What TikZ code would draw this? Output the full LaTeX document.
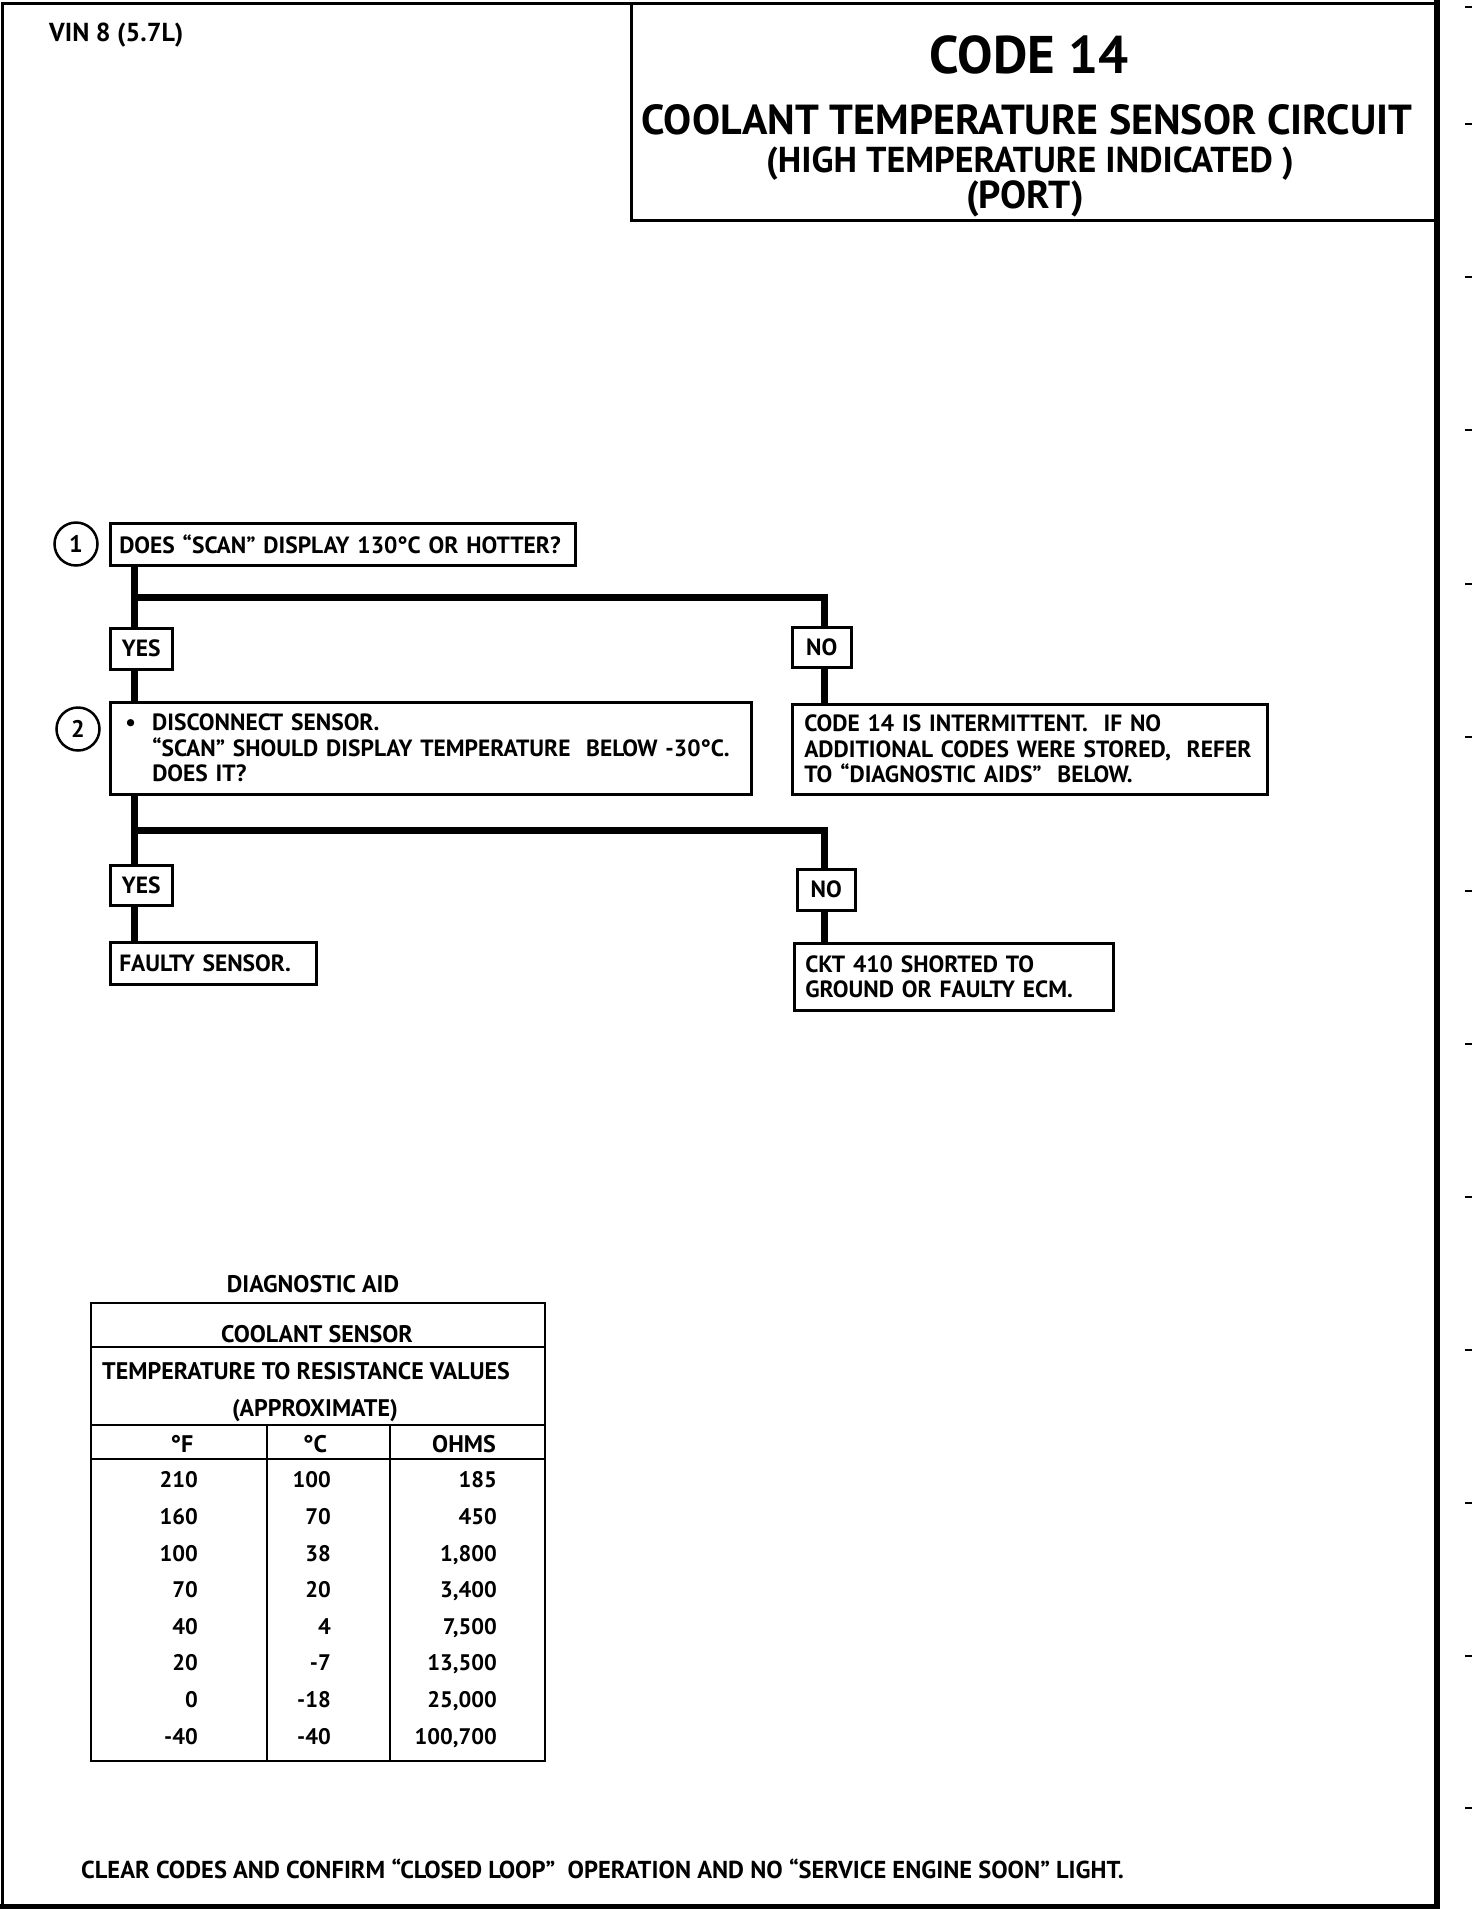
\documentclass[tikz,border=0pt]{standalone}
\usepackage{fontspec}
\setmainfont{PT Sans}
\begin{document}
\begin{tikzpicture}[x=1pt,y=-1pt,
  frame/.style={line width=3pt, line cap=rect},
  box/.style={draw, line width=2.5pt, fill=white, inner ysep=0pt, anchor=north west,
    align=left, font=\fontsize{23.5}{25.5}\selectfont\bfseries},
  lab/.style={draw, line width=2.5pt, fill=white, inner sep=0pt, anchor=north west,
    font=\fontsize{23.5}{25}\selectfont\bfseries},
  conn/.style={line width=7pt, line join=miter},
  num/.style={circle, draw, line width=2.5pt, minimum size=43pt, inner sep=0pt,
    font=\fontsize{24}{26}\selectfont\bfseries},
  tline/.style={line width=2.5pt},
  ttxt/.style={inner sep=0pt, anchor=base, font=\fontsize{24}{26}\selectfont\bfseries},
  tnum/.style={inner sep=0pt, anchor=base east, font=\fontsize{22.5}{25}\selectfont\bfseries},
  plain/.style={inner sep=0pt, anchor=base},
  tick/.style={line width=1.5pt}
]
\useasboundingbox (0,0) rectangle (1472,1914);
% outer frame
\draw[frame] (2.5,3) -- (1437,3);
\draw[frame] (2.5,3) -- (2.5,1906);
\draw[frame, line width=5pt] (2.5,1906) -- (1437,1906);
\draw[frame, line width=6pt] (1437,3) -- (1437,1906);
% title box
\draw[frame] (631,3) -- (631,220) -- (1437,220);
% right margin ticks
\foreach \y in {7,124,277,430,584,737,891,1044,1197,1350,1503,1656,1808}
  \draw[tick] (1465,\y) -- (1472,\y);

% header texts
\node[plain, anchor=base west, font=\fontsize{26}{28}\selectfont\bfseries] (vin) at (49,41) {VIN 8 (5.7L)};
\node[plain, font=\fontsize{53}{58}\selectfont\bfseries] (code) at (1029,73.5) {CODE 14};
\node[plain, font=\fontsize{42}{46}\selectfont\bfseries] (title) at (1027,134.7) {COOLANT TEMPERATURE SENSOR CIRCUIT};
\node[plain, font=\fontsize{36}{40}\selectfont\bfseries] (sub1) at (1030,172.6) {(HIGH TEMPERATURE INDICATED )};
\node[plain, font=\fontsize{39}{43}\selectfont\bfseries] (sub2) at (1025,208.6) {(PORT)};

% step 1
\node[num] (n1) at (76,544) {1};
\node[box, inner xsep=9pt, text width=447pt, minimum height=42pt] (q1) at (109,522)
  {DOES “SCAN” DISPLAY 130°C OR HOTTER?};
\node[lab, minimum width=62pt, minimum height=41pt] (yes1) at (109,627) {YES};
\node[lab, minimum width=59pt, minimum height=40pt] (no1) at (791,626) {NO};

% step 2
\node[num] (n2) at (78,729) {2};
\node[box, inner xsep=15pt, text width=611pt, minimum height=92pt] (q2) at (109,701)
  {\makebox[27pt][l]{•}DISCONNECT SENSOR.\\
   \hspace*{27pt}“SCAN” SHOULD DISPLAY TEMPERATURE \ BELOW -30°C.\\
   \hspace*{27pt}DOES IT?};
\node[box, inner xsep=12pt, text width=451pt, minimum height=90pt] (r1) at (791,703)
  {CODE 14 IS INTERMITTENT. \ IF NO\\
   ADDITIONAL CODES WERE STORED, \ REFER\\
   TO “DIAGNOSTIC AIDS” \ BELOW.};

\node[lab, minimum width=62pt, minimum height=40pt] (yes2) at (109,864) {YES};
\node[lab, minimum width=58pt, minimum height=41pt] (no2) at (796,868) {NO};
\node[box, inner xsep=9pt, text width=188pt, minimum height=42pt] (f1) at (109,941)
  {FAULTY SENSOR.};
\node[box, inner xsep=11pt, text width=297pt, minimum height=67pt] (ckt) at (793,942)
  {CKT 410 SHORTED TO\\ GROUND OR FAULTY ECM.};

% connectors
\coordinate (j1) at (134,597);
\coordinate (k1) at (824,597);
\draw[conn] (q1.south -| j1) -- (yes1.north -| j1);
\draw[conn] (yes1.south -| j1) -- (q2.north -| j1);
\draw[conn] (j1) -- (k1) -- (no1.north -| k1);
\draw[conn] (no1.south -| k1) -- (r1.north -| k1);
\coordinate (j2) at (134,830);
\coordinate (k2) at (824,830);
\draw[conn] (q2.south -| j2) -- (yes2.north -| j2);
\draw[conn] (yes2.south -| j2) -- (f1.north -| j2);
\draw[conn] (j2) -- (k2) -- (no2.north -| k2);
\draw[conn] (no2.south -| k2) -- (ckt.north -| k2);

% diagnostic aid table
\node[ttxt] (da) at (313,1292.4) {DIAGNOSTIC AID};
\draw[tline] (91,1303) rectangle (545,1761);
\draw[tline] (91,1347) -- (545,1347);
\draw[tline] (91,1425) -- (545,1425);
\draw[tline] (91,1459) -- (545,1459);
\draw[tline] (267,1425) -- (267,1761);
\draw[tline] (390,1425) -- (390,1761);
\node[ttxt] (cs) at (317,1342.4) {COOLANT SENSOR};
\node[ttxt, anchor=base west] (trv) at (102,1379.4) {TEMPERATURE TO RESISTANCE VALUES};
\node[ttxt] (apx) at (315,1416.4) {(APPROXIMATE)};
\node[ttxt] (hf) at (182,1452.4) {°F};
\node[ttxt] (hc) at (315,1452.4) {°C};
\node[ttxt] (ho) at (464,1452.4) {OHMS};
\foreach \f/\c/\o [count=\i from 0] in
  {210/100/185, 160/70/450, 100/38/1{,}800, 70/20/3{,}400, 40/4/7{,}500,
   20/-7/13{,}500, 0/-18/25{,}000, -40/-40/100{,}700}
{
  \node[tnum] (f\i) at (198,1487.9+36.6*\i) {\f};
  \node[tnum] (c\i) at (331,1487.9+36.6*\i) {\c};
  \node[tnum] (o\i) at (497,1487.9+36.6*\i) {\o};
}

% footer
\node[plain, anchor=base west, font=\fontsize{24.5}{27}\selectfont\bfseries] (foot) at (81,1878.6)
  {CLEAR CODES AND CONFIRM “CLOSED LOOP” \ OPERATION AND NO “SERVICE ENGINE SOON” LIGHT.};
\end{tikzpicture}
\end{document}
